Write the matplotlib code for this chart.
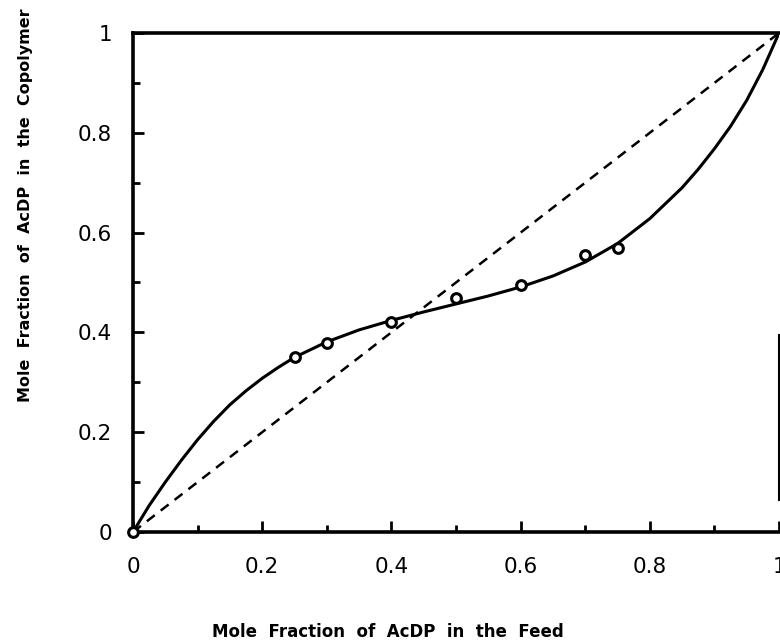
import numpy as np
import matplotlib
matplotlib.use("Agg")
import matplotlib.pyplot as plt
from matplotlib.ticker import MultipleLocator, FuncFormatter

# measured copolymer composition vs feed composition
feed = [0.0, 0.25, 0.30, 0.40, 0.50, 0.60, 0.70, 0.75]
copolymer = [0.0, 0.351, 0.379, 0.421, 0.469, 0.495, 0.555, 0.569]

# fitted curve
curve_x = [0.0, 0.025, 0.05, 0.075, 0.10, 0.125, 0.15, 0.175, 0.20, 0.225, 0.25,
           0.30, 0.35, 0.40, 0.45, 0.50, 0.55, 0.60, 0.65, 0.70, 0.75,
           0.80, 0.85, 0.875, 0.90, 0.925, 0.95, 0.975, 1.0]
curve_y = [0.0, 0.053, 0.100, 0.144, 0.185, 0.222, 0.255, 0.283, 0.308, 0.330, 0.350,
           0.381, 0.405, 0.424, 0.441, 0.457, 0.473, 0.491, 0.513, 0.541, 0.578,
           0.628, 0.690, 0.727, 0.768, 0.813, 0.865, 0.927, 1.0]

# ideal (azeotropic) line
ideal_x = [0.0, 1.0]
ideal_y = [0.0, 1.0]

fig = plt.figure(figsize=(7.8, 6.42), dpi=100)
ax = fig.add_axes([133/780, 110/642, 646/780, 499/642])

ax.plot(curve_x, curve_y, color='black', lw=2.2, solid_capstyle='round',
        solid_joinstyle='round')
ax.plot(ideal_x, ideal_y, color='black', lw=1.8, linestyle=(0, (4, 3)))
ax.plot(feed, copolymer, linestyle='none', marker='o', markersize=7,
        markerfacecolor='white', markeredgecolor='black', markeredgewidth=2.2,
        clip_on=False, zorder=5)

ax.set_xlim(0, 1)
ax.set_ylim(0, 1)
ax.xaxis.set_major_locator(MultipleLocator(0.2))
ax.yaxis.set_major_locator(MultipleLocator(0.2))
ax.xaxis.set_minor_locator(MultipleLocator(0.1))
ax.yaxis.set_minor_locator(MultipleLocator(0.1))
fmt = FuncFormatter(lambda v, p: '%g' % round(v, 2))
ax.xaxis.set_major_formatter(fmt)
ax.yaxis.set_major_formatter(fmt)

ax.tick_params(which='both', direction='in', top=False, right=False, width=2)
ax.tick_params(which='major', length=8, labelsize=15.5)
ax.tick_params(which='minor', length=5)
ax.tick_params(axis='x', which='major', pad=18)
ax.tick_params(axis='y', which='major', pad=15)

for s in ax.spines.values():
    s.set_linewidth(2.6)
# the right frame edge is only partly visible in the original
ax.spines['right'].set_bounds(0.064, 0.395)
ax.spines['right'].set_linewidth(1.5)

ax.set_xlabel('Mole  Fraction  of  AcDP  in  the  Feed', fontsize=12,
              fontweight='bold')
ax.xaxis.set_label_coords(0.395, -0.182)
ax.set_ylabel('Mole  Fraction  of  AcDP  in  the  Copolymer', fontsize=11.5,
              fontweight='bold')
ax.yaxis.set_label_coords(-0.155, 0.655)

fig.savefig('out.png', dpi=100)
